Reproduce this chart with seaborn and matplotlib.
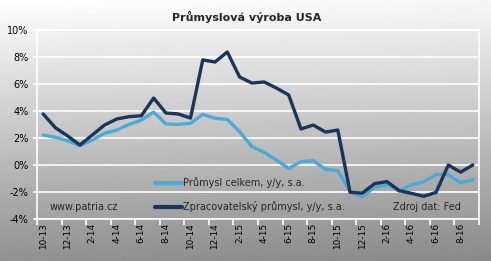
import numpy as np
import pandas as pd
import matplotlib
matplotlib.use("Agg")
import matplotlib.pyplot as plt
import seaborn as sns

months = ["10-13", "11-13", "12-13", "1-14", "2-14", "3-14", "4-14", "5-14", "6-14",
          "7-14", "8-14", "9-14", "10-14", "11-14", "12-14", "1-15", "2-15", "3-15",
          "4-15", "5-15", "6-15", "7-15", "8-15", "9-15", "10-15", "11-15", "12-15",
          "1-16", "2-16", "3-16", "4-16", "5-16", "6-16", "7-16", "8-16", "9-16"]

prumysl_celkem = [2.22, 2.05, 1.80, 1.43, 1.85, 2.35, 2.59, 3.00, 3.33,
                  3.92, 3.04, 3.01, 3.09, 3.75, 3.46, 3.38, 2.47, 1.36,
                  0.94, 0.37, -0.25, 0.25, 0.32, -0.32, -0.42, -1.98, -2.35,
                  -1.65, -1.45, -1.93, -1.48, -1.25, -0.70, -0.72, -1.32, -1.08]

zpracovatelsky = [3.78, 2.76, 2.15, 1.48, 2.22, 2.96, 3.41, 3.58, 3.65,
                  4.96, 3.85, 3.78, 3.48, 7.78, 7.63, 8.37, 6.52, 6.07,
                  6.15, 5.70, 5.19, 2.67, 2.96, 2.44, 2.59, -2.02, -2.08,
                  -1.38, -1.23, -1.90, -2.10, -2.32, -2.03, 0.00, -0.53, 0.00]

series_names = ["Průmysl celkem, y/y, s.a.", "Zpracovatelský průmysl, y/y, s.a."]
y_ticks = [-4, -2, 0, 2, 4, 6, 8, 10]

df = pd.DataFrame({
    "idx": list(range(len(months))) * 2,
    "value": prumysl_celkem + zpracovatelsky,
    "series": [series_names[0]] * len(months) + [series_names[1]] * len(months),
})

sns.set_theme(style="white")
plt.rcParams["font.family"] = ["DejaVu Sans"]

W, H = 491, 261
fig = plt.figure(figsize=(W / 100, H / 100), dpi=100)

# background gradient
bg = fig.add_axes([0, 0, 1, 1], zorder=-10)
yy, xx = np.mgrid[0:1:200j, 0:1:200j]
grad = 1.0 - 0.43 * yy - 0.03 * xx
bg.imshow(grad, cmap="gray", vmin=0, vmax=1, aspect="auto", extent=[0, 1, 0, 1], origin="upper")
bg.set_axis_off()

ax = fig.add_axes([37 / W, 1 - 219 / H, (479 - 37) / W, (219 - 30) / H])
ax.set_facecolor("none")

palette = {series_names[0]: "#4aabd7", series_names[1]: "#1b355a"}
sns.lineplot(data=df, x="idx", y="value", hue="series", hue_order=series_names,
             palette=palette, linewidth=2.4, ax=ax, legend=True)

ax.set_xlim(-0.5, len(months) - 0.5)
ax.set_ylim(-4, 10)
ax.set_yticks(y_ticks)
ax.set_yticklabels([f"{v}%" for v in y_ticks], fontsize=7, color="black")
ax.yaxis.grid(True, color="white", linewidth=1.2)
ax.xaxis.grid(False)

ax.set_xticks(np.arange(-0.5, len(months), 2), minor=False)
ax.set_xticklabels([])
ax.set_xticks(np.arange(0, len(months), 2), minor=True)
ax.set_xticklabels(months[::2], minor=True, rotation=90, fontsize=6.4, color="black")
ax.tick_params(axis="x", which="major", direction="out", length=4, width=1.2, color="white", bottom=True)
ax.tick_params(axis="x", which="minor", length=0, pad=3, bottom=True)
ax.tick_params(axis="y", direction="out", length=3, width=1.2, color="white", left=True, pad=3)
ax.set_xlabel("")
ax.set_ylabel("")
for s in ax.spines.values():
    s.set_color("white")
    s.set_linewidth(1.2)

leg = ax.legend(loc="upper left", bbox_to_anchor=((155 - 37) / 442, (219 - 177) / 189),
                frameon=False, fontsize=7, handlelength=2.75, handletextpad=0.15,
                labelspacing=1.35, borderpad=0, borderaxespad=0)
for line in leg.get_lines():
    line.set_linewidth(3)

fig.text(50 / W, 1 - 207 / H, "www.patria.cz", fontsize=7, va="center", ha="left")
fig.text(461 / W, 1 - 207 / H, "Zdroj dat: Fed", fontsize=7, va="center", ha="right")
fig.text(247 / W, 1 - 17 / H, "Průmyslová výroba USA", fontsize=8, fontweight="bold",
         ha="center", va="center")

fig.savefig("out.png", dpi=100)
